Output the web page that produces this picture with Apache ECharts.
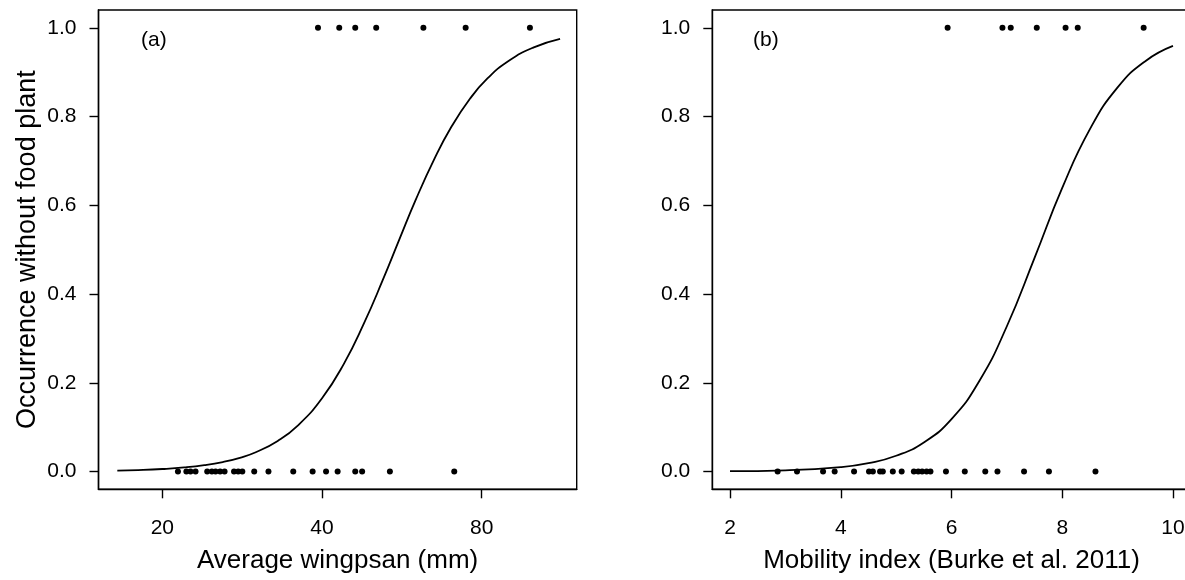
<!DOCTYPE html>
<html>
<head>
<meta charset="utf-8">
<script src="https://cdn.jsdelivr.net/npm/echarts@6/dist/echarts.min.js"></script>
<style>
  html, body { margin: 0; padding: 0; background: #fff; }
  #chart { width: 1185px; height: 580px; }
</style>
</head>
<body>
<div id="chart"></div>
<script>
// (a) wingspan, log scale
const wingAbsent = [21.4, 22.2, 22.6, 23.1, 24.3, 24.8, 25.2, 25.7, 26.2, 27.3, 27.8, 28.3, 29.8, 31.7, 35.3, 38.4, 40.7, 42.8, 46.2, 47.6, 53.7, 71.0];
const wingPresent = [39.3, 43.1, 46.2, 50.6, 62.1, 74.6, 98.6];
const wingCurveX = [16.45, 18, 20, 22, 24, 26, 28, 30, 33, 36, 40, 44, 48, 52, 56, 60, 65, 70, 76, 82, 90, 100, 112.4];
const wingCurveP = [0.0021, 0.0033, 0.0057, 0.0092, 0.0143, 0.0214, 0.031, 0.0435, 0.069, 0.1036, 0.1652, 0.2432, 0.3343, 0.43, 0.5242, 0.6109, 0.7023, 0.7751, 0.8399, 0.8857, 0.9257, 0.9552, 0.9748];
const wingTicks = [20, 40, 80];

// (b) mobility index
const mobAbsent = [2.86, 3.21, 3.68, 3.89, 4.24, 4.51, 4.58, 4.71, 4.76, 4.94, 5.10, 5.32, 5.40, 5.47, 5.55, 5.62, 5.90, 6.24, 6.61, 6.83, 7.31, 7.76, 8.60];
const mobPresent = [5.93, 6.92, 7.07, 7.54, 8.06, 8.28, 9.47];
const mobCurveX = [2, 3, 4, 4.5, 5, 5.5, 6, 6.5, 7, 7.5, 8, 8.5, 9, 9.5, 10];
const mobCurveP = [0.0008, 0.0028, 0.01, 0.019, 0.0356, 0.0656, 0.1181, 0.2034, 0.3274, 0.4815, 0.639, 0.7715, 0.8655, 0.9247, 0.959];
const mobTicks = [2, 4, 6, 8, 10];

const yTicks = [0, 0.2, 0.4, 0.6, 0.8, 1.0];

const FONT = 'Liberation Sans, Arial, sans-serif';
const chart = echarts.init(document.getElementById('chart'));

function pairs(xs, ys) {
  return xs.map((x, i) => [x, ys[i]]);
}
function flat(xs, v) {
  return xs.map(x => [x, v]);
}

function xAxisFor(idx, type, min, max, ticks, name) {
  return {
    gridIndex: idx,
    type: type,
    logBase: 2,
    min: min,
    max: max,
    name: name,
    nameLocation: 'middle',
    nameGap: 59,
    nameTextStyle: { fontSize: 26, color: '#000', fontFamily: FONT },
    axisLine: { show: true, onZero: false, lineStyle: { color: '#000', width: 1.4 } },
    axisTick: { show: true, length: 9, customValues: ticks, lineStyle: { color: '#000', width: 1.4 } },
    axisLabel: { show: true, margin: 28, fontSize: 21, color: '#000', fontFamily: FONT, customValues: ticks },
    splitLine: { show: false }
  };
}

function yAxisFor(idx, name) {
  return {
    gridIndex: idx,
    type: 'value',
    min: -0.04,
    max: 1.04,
    name: name,
    nameLocation: 'middle',
    nameGap: 57,
    nameTextStyle: { fontSize: 27, color: '#000', fontFamily: FONT },
    axisLine: { show: true, onZero: false, lineStyle: { color: '#000', width: 1.4 } },
    axisTick: { show: true, length: 9, customValues: yTicks, lineStyle: { color: '#000', width: 1.4 } },
    axisLabel: {
      show: true, margin: 22, fontSize: 21, color: '#000', fontFamily: FONT,
      customValues: yTicks,
      formatter: v => v.toFixed(1)
    },
    splitLine: { show: false }
  };
}

const dotStyle = { color: '#000', opacity: 1 };
const lineStyle = { color: '#000', width: 1.8 };
const labelText = { fontSize: 21, fontWeight: 'normal', color: '#000', fontFamily: FONT };

const option = {
  backgroundColor: '#fff',
  animation: false,
  title: [
    { text: '(a)', left: 136, top: 25, textStyle: labelText },
    { text: '(b)', left: 748, top: 25, textStyle: labelText }
  ],
  grid: [
    { left: 98.5, top: 10, width: 478.2, height: 479.3, show: true, borderColor: '#000', borderWidth: 1.4, outerBoundsMode: 'none' },
    { left: 712.3, top: 10, width: 478.4, height: 479.3, show: true, borderColor: '#000', borderWidth: 1.4, outerBoundsMode: 'none' }
  ],
  xAxis: [
    xAxisFor(0, 'log', 15.16, 120.8, wingTicks, 'Average wingpsan (mm)'),
    xAxisFor(1, 'value', 1.68, 10.32, mobTicks, 'Mobility index (Burke et al. 2011)')
  ],
  yAxis: [
    yAxisFor(0, 'Occurrence without food plant'),
    yAxisFor(1, '')
  ],
  series: [
    { type: 'line', xAxisIndex: 0, yAxisIndex: 0, data: pairs(wingCurveX, wingCurveP), smooth: true, showSymbol: false, lineStyle: lineStyle },
    { type: 'scatter', xAxisIndex: 0, yAxisIndex: 0, data: flat(wingAbsent, 0), symbolSize: 6, itemStyle: dotStyle },
    { type: 'scatter', xAxisIndex: 0, yAxisIndex: 0, data: flat(wingPresent, 1), symbolSize: 6, itemStyle: dotStyle },
    { type: 'line', xAxisIndex: 1, yAxisIndex: 1, data: pairs(mobCurveX, mobCurveP), smooth: true, showSymbol: false, lineStyle: lineStyle },
    { type: 'scatter', xAxisIndex: 1, yAxisIndex: 1, data: flat(mobAbsent, 0), symbolSize: 6, itemStyle: dotStyle },
    { type: 'scatter', xAxisIndex: 1, yAxisIndex: 1, data: flat(mobPresent, 1), symbolSize: 6, itemStyle: dotStyle }
  ]
};

chart.setOption(option);
</script>
</body>
</html>
